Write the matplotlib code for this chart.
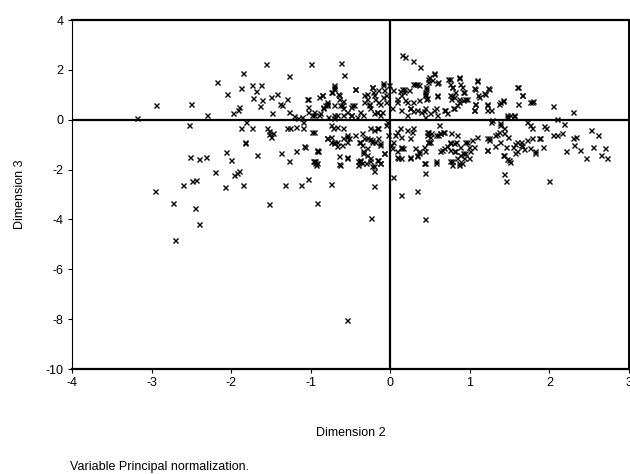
import matplotlib
matplotlib.use('Agg')
import matplotlib.pyplot as plt

plt.rcParams['font.family'] = ['Liberation Sans', 'DejaVu Sans']

# object scores, dimension 2 (x) and dimension 3 (y)
dim2 = [-3.18, -2.95, -2.5, -2.53, -2.3, -2.96, -2.73, -2.7, -2.6, -2.52,
        -2.4, -2.31, -2.49, -2.44, -2.45, -2.4, -2.18, -2.05, -2.2, -2.08,
        -2.06, -2.0, -1.97, -1.93, -1.9, -1.85, -1.98, -1.92, -1.9, -1.88,
        -1.85, -1.88, -1.83, -1.83, -1.74, -1.81, -1.74, -1.73, -1.69, -1.62,
        -1.67, -1.64, -1.61, -1.56, -1.52, -1.55, -1.53, -1.52, -1.5, -1.48,
        -1.5, -1.42, -1.49, -1.37, -1.38, -1.36, -1.32, -1.3, -1.27, -1.27,
        -1.3, -1.26, -1.27, -1.19, -1.21, -1.19, -1.16, -1.12, -1.08, -1.1,
        -1.1, -1.04, -1.04, -1.03, -1.0, -0.98, -0.97, -0.95, -0.92, -0.92,
        -0.98, -0.9,
        -0.62, -0.58, -0.91, -0.94, -0.93, -0.75, -0.55, -0.64, -0.21, -0.24,
        0.04, 0.13, 0.33, 0.43, 0.44, 0.43, 0.58, 1.43, 1.45, 2.0,
        0.15, 0.18, 0.29, 0.37, 0.55, 0.49, 0.73, 0.86, 1.09, 1.6,
        1.66, 1.76, 1.79, 2.04, 2.3, 2.52, 2.61, 2.7, 2.55, 2.46,
        2.65, 2.72, 2.39, 2.31, 2.21, 2.3, 2.34, 2.16, 2.1, 2.05,
        2.18, 2.1, 1.93, 1.96, 1.92, 1.82, 1.88, 1.76, 1.78, 1.76,
        1.72, 1.64, 1.66, 1.57, 1.57, 1.51, 1.47, 1.42, 1.31, 1.22,
        1.22, 1.34, 1.43, 1.47, 1.38, 1.28, 1.42, 1.36, 1.5, 1.55,
        1.23, 1.18, 1.21, 1.22, 1.11, 1.06, 1.05, 1.05, 1.09, 1.05,
        1.0, 0.96, 0.94, 0.93, 0.9, 0.86, 0.84, 0.81, 0.78, 0.75,
        0.8, 0.84, 0.75, 0.67, 0.63, 0.71, 0.66, 0.63, 0.57, 0.5,
        0.48, 0.51, 0.61, 0.42, 0.36, 0.33, 0.25, 0.25, 0.16, 0.13,
        0.13, 0.09, 0.06, 0.04, 0.12, 0.21, 0.25, 0.29, 0.34, 0.42,
        0.44, 0.55, 0.59, 0.67, 0.71, 0.79, 0.84, 0.76, 0.78, 0.81,
        0.78, 0.75, 0.9, 0.93, 0.92, 0.96, 0.86, 0.59, 0.45, 0.44,
        0.45, 0.47, 0.52, 0.6, 0.34, 0.29, 0.23, 0.17, 0.15, 0.19,
        0.09, 0.29, 0.36, 0.12, 0.04, -0.01, -0.09, -0.08, -0.09, -0.06,
        -0.15, -0.19, -0.23, -0.22, -0.29, -0.33, -0.27, -0.25, -0.21, -0.17,
        -0.1, -0.13, -0.34, -0.44, -0.48, -0.54, -0.59, -0.63, -0.59, -0.66,
        -0.64, -0.71, -0.71, -0.75, -0.8, -0.82, -0.86, -0.84, -0.9, -0.96,
        -0.78, -0.71, -0.67, -0.5, -0.42, -0.75, -0.72, -0.67, -0.59, -0.8,
        -0.75, -0.71, -0.67, -0.59, -0.55, -0.52, -0.39, -0.35, -0.33, -0.26,
        -0.21, -0.17, -0.15, -0.13, -0.23, -0.29, -0.34, -0.38, -0.4, -0.31,
        -0.25, -0.21, -0.21, -0.17, -0.13, -0.08, -0.03, -0.06, 0.08, -0.04,
        0.01, 0.27, 0.46, 0.6, 0.76, 1.24, -0.55,
        # denser centre, left of the vertical axis
        -0.71, -0.73, -0.65, -0.86, -1.05, -0.8, -0.79, -0.84, -0.71, -0.61,
        -0.5, -0.46, -0.44, -0.33, -0.29, -0.27, -0.23, -0.2, -0.15, -0.09,
        -0.06, -0.13, -0.17, -0.38, -0.88, -0.96, -1.03, -1.11, -0.71, -0.59,
        -0.5, 0.08, 0.13, 0.17, 0.21, 0.31, 0.36, 0.44, 0.13, 0.25,
        0.38, 0.02, -0.96, -1.07, -0.92, -0.96, -0.92, -0.8, -0.75, -0.71,
        -0.67, -0.61, -0.55, -0.55, -0.44, -0.38, -0.36, -0.29, -0.23, -0.19,
        -0.13, -0.25, -0.15, -0.34, -0.38, -0.29, -0.4, -0.36, -0.25, -0.15,
        -0.13, -0.23, -0.65, -0.55, -0.63, -0.08, 0.02, 0.08, 0.13, 0.1,
        0.25, 0.34, 0.31, 0.36, 0.13, 0.21, 0.29, 0.46, 0.48,
        # denser centre, right of the vertical axis
        0.55, 0.48, 0.59, 0.45, 0.44, 0.46, 0.59, 0.75, 0.86, 0.78,
        0.75, 0.8, 0.88, 0.91, 0.94, 0.86, 0.8, 0.69, 0.57, 0.5,
        0.44, 1.09, 1.06, 1.1, 1.07, 1.05, 1.19, 1.24, 1.22, 1.26,
        1.38, 1.42, 1.59, 1.66, 1.61, 1.78, 1.47, 1.56, 1.26, 1.38,
        1.36, 1.32, 1.43, 1.48, 1.38, 1.45, 1.54, 1.59, 1.64, 1.72,
        1.78, 1.87, 1.82, 0.48, 0.5, 0.63, 0.67, 0.44, 0.65, 0.75,
        0.82, 0.88, 0.94, 1.03, 0.99, 0.75, 0.8, 0.88, 0.92, 0.99,
        0.78, 0.86, 0.42, 0.57, 1.22, 1.24, 1.43, 1.49, 1.59, 1.68]
dim3 = [0.08, 0.6, 0.65, -0.2, 0.2, -2.84, -3.34, -4.82, -2.63, -1.51,
        -1.56, -1.51, -2.44, -2.42, -3.53, -4.2, 1.51, 1.04, -2.1, -2.68,
        -1.31, -1.6, -2.23, -2.14, -2.04, -2.63, 0.28, 0.38, 0.52, 1.27,
        1.87, -0.35, -0.88, -0.95, -0.35, -0.08, 1.4, 0.88, 1.15, 1.39,
        -1.41, 0.56, 0.8, 2.23, -3.4, -0.32, -0.45, -0.58, -0.68, -0.54,
        0.92, 1.04, 0.28, -1.35, 0.65, 0.6, -2.6, 0.85, 1.75, 0.3,
        -0.35, -0.32, -1.64, -1.25, 0.15, -0.3, 0.05, -2.63, -1.05, -0.33,
        -0.1, 0.85, 0.5, -2.36, 2.23, -0.5, -1.67, -1.75, -3.34, -1.2,
        0.2, 0.9,
        2.27, 1.8, -1.27, -1.67, -1.8, -2.58, -1.51, -1.78, -2.64, -3.93,
        -2.31, -3.0, -2.84, -4.0, -2.14, -1.74, -1.74, -2.18, -2.44, -2.47,
        2.6, 2.51, 2.34, 2.12, 1.89, 1.71, 1.65, 1.67, 1.57, 1.33,
        0.98, 0.72, 0.74, 0.54, 0.32, -0.4, -0.61, -1.12, -1.09, -1.54,
        -1.43, -1.54, -1.21, -1.01, -1.27, -0.74, -0.68, -0.54, -0.61, -0.61,
        -0.19, 0.03, -0.24, -0.32, -1.08, -1.34, -0.74, -1.14, -0.35, -0.21,
        -0.11, -0.88, -1.04, -0.98, -1.34, -1.7, -1.57, -1.41, -1.04, -0.72,
        -1.21, -0.58, -0.35, 0.12, -0.21, 0.0, 0.77, 0.65, 0.19, 0.16,
        1.27, 1.09, 0.65, 0.39, 0.92, 0.65, 0.39, 1.27, -0.68, -1.08,
        -1.25, -0.88, -1.34, -1.54, -1.74, -1.81, -1.54, -1.27, -1.81, -1.65,
        -0.94, -0.61, -0.88, -1.14, -1.25, -1.04, -0.48, -0.54, -0.61, -0.68,
        -0.88, -0.54, -0.21, -1.08, -1.34, -1.41, -1.51, -0.74, -1.12, -1.14,
        -1.54, -1.51, -0.61, -0.88, -0.32, 0.19, 0.48, 0.35, 0.39, 0.35,
        0.48, 0.39, 0.19, 0.39, 0.25, 0.45, 0.61, 0.85, 0.96, 1.12,
        1.31, 1.43, 1.31, 1.12, 0.78, 0.85, 0.85, 0.96, 0.85, 1.05,
        1.22, 1.51, 1.58, 1.51, 1.45, 1.45, 1.18, 1.12, 1.25, 0.78,
        0.72, 0.72, 0.78, 1.14, 1.18, 1.38, 1.49, 1.18, 0.92, 0.72,
        0.72, 0.85, 1.31, 1.12, 1.05, 0.72, 0.58, 0.45, 0.25, 0.32,
        0.32, 0.19, 0.19, 1.22, 0.58, 0.32, 0.45, 0.58, 0.74, 1.05,
        0.85, 1.41, 1.25, 1.12, 0.72, 0.58, 0.98, 0.45, 0.19, 0.32,
        0.12, 0.05, 0.19, 0.19, 0.12, -0.21, -0.35, -0.28, -0.35, -0.72,
        -0.68, -0.88, -1.04, -0.72, -0.61, -0.74, -0.88, -0.54, -0.74, -0.77,
        -0.41, -0.35, -0.74, -1.01, -0.88, -1.14, -1.34, -1.67, -1.81, -1.74,
        -1.54, -1.87, -2.05, -1.61, -1.74, -1.34, -0.61, -0.21, -0.48, -0.08,
        -1.01, -0.48, -0.48, -0.61, -0.54, -0.74, -8.05,
        # denser centre, left of the vertical axis
        1.31, 1.12, 0.98, 0.98, 0.85, 0.65, 0.58, 0.52, 0.58, 0.58,
        0.52, 0.58, 1.25, 0.98, 0.85, 0.65, 1.31, 0.98, 1.18, 1.41,
        0.98, 0.65, 0.32, 0.32, 0.25, 0.19, 0.32, 0.12, 0.19, 0.19,
        0.19, 0.85, 0.98, 1.25, 0.72, 1.45, 1.38, 1.12, 0.39, 0.45,
        0.32, 0.45, -0.48, -1.08, -1.27, -1.65, -1.74, -0.74, -0.88, -0.94,
        -0.88, -1.01, -0.68, -0.88, -0.61, -0.88, -1.01, -0.74, -0.81, -0.88,
        -0.94, -0.35, -0.35, -1.27, -1.61, -1.41, -1.67, -1.74, -1.67, -1.61,
        -1.74, -1.87, -1.47, -1.54, -1.81, -1.34, -1.14, -1.27, -1.08, -1.54,
        -1.54, -1.47, -1.14, -1.27, -0.68, -0.41, -0.35, -0.61, -0.88,
        # denser centre, right of the vertical axis
        1.85, 1.65, 1.49, 1.31, 0.98, 0.88, 0.98, 1.65, 1.71, 1.31,
        0.98, 0.92, 1.45, 1.12, 0.85, 0.72, 0.45, 0.39, 0.45, 0.25,
        0.12, 1.58, 1.25, 0.98, 0.65, 0.39, 1.05, 1.25, 0.58, 0.39,
        0.72, 0.78, 1.31, 0.98, 0.65, 0.72, 0.19, 0.19, -0.08, -0.15,
        -0.48, -0.61, -0.54, -0.68, -0.88, -1.08, -1.08, -0.88, -1.01, -0.81,
        -0.74, -0.74, -1.27, -0.48, -0.88, -0.54, -0.48, -1.27, -1.21, -0.94,
        -0.88, -1.08, -0.88, -0.81, -1.08, -1.21, -1.27, -1.41, -1.34, -1.54,
        -1.67, -1.74, -1.74, -1.67, -1.21, -0.81, -1.41, -1.61, -1.27, -1.17]

xticks = [-4, -3, -2, -1, 0, 1, 2, 3]
yticks = [-10, -8, -6, -4, -2, 0, 2, 4]

fig = plt.figure(figsize=(6.3, 4.74), dpi=100)
ax = fig.add_axes([72/630, 1 - 369/474, 557/630, 349/474])

ax.plot(dim2, dim3, linestyle='none', marker='x', markersize=3.6,
        markeredgewidth=1.0, color='black')
ax.axhline(0, color='black', linewidth=1.6, zorder=1)
ax.axvline(0, color='black', linewidth=1.6, zorder=1)

ax.set_xlim(-4, 3)
ax.set_ylim(-10, 4)
ax.set_xticks(xticks)
ax.set_yticks(yticks)
ax.set_xticklabels([str(t) for t in xticks])
ax.set_yticklabels([str(t) for t in yticks])
ax.tick_params(direction='out', length=3, width=0.8, labelsize=9, pad=3)

ax.spines['left'].set_linewidth(0.8)
ax.spines['top'].set_linewidth(1.6)
ax.spines['bottom'].set_linewidth(1.6)
ax.spines['right'].set_linewidth(1.4)

ax.set_xlabel('Dimension 2', fontsize=9, labelpad=27)
ax.set_ylabel('Dimension 3', fontsize=9, labelpad=14)

fig.text(70/630, 1 - 467/474, 'Variable Principal normalization.',
         fontsize=9, ha='left', va='center')

fig.savefig('out.png', dpi=100)
